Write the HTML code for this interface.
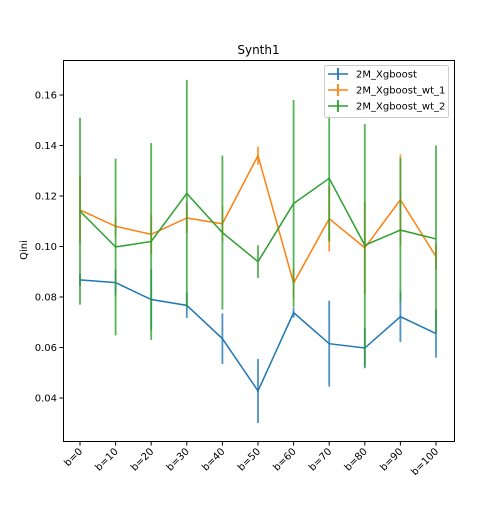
<!DOCTYPE html>
<html><head><meta charset="utf-8"><style>
body{margin:0;background:#fff;font-family:"Liberation Sans","DejaVu Sans",sans-serif}
svg text{font-family:"DejaVu Sans","Liberation Sans",sans-serif}
</style></head><body>
<svg id="chart" width="504" height="504" viewBox="0 0 504 504" xmlns="http://www.w3.org/2000/svg">
<rect width="504" height="504" fill="#fff"/>
<text x="258.5" y="54" font-size="12" text-anchor="middle">Synth1</text>
<text x="27" y="250" font-size="10" text-anchor="middle" transform="rotate(-90 27 250)">Qini</text>
<g id="plot"></g>
<rect x="63.5" y="60.5" width="391" height="381" fill="none" stroke="#000" stroke-width="1"/>
<g>
<rect x="324.5" y="65.5" width="124" height="52" rx="2" fill="#fff" fill-opacity="0.8" stroke="#ccc"/>
<g id="legend-entries"></g>
</g>
</svg>
<script>
const categories=["b=0","b=10","b=20","b=30","b=40","b=50","b=60","b=70","b=80","b=90","b=100"];
const yTicks=[0.04,0.06,0.08,0.10,0.12,0.14,0.16];
const seriesNames=["2M_Xgboost","2M_Xgboost_wt_1","2M_Xgboost_wt_2"];
const blueVals=[0.0868,0.0857,0.079,0.0767,0.0635,0.0428,0.0738,0.0615,0.0598,0.0722,0.0655];
const blueErr=[0.0024,0.005,0.012,0.005,0.010,0.0127,0.002,0.017,0.008,0.010,0.0095];
const orangeVals=[0.1145,0.108,0.1048,0.1113,0.109,0.136,0.0855,0.111,0.0995,0.1185,0.096];
const orangeErr=[0.0135,0.0036,0.0077,0.006,0.007,0.0036,0.006,0.013,0.018,0.018,0.005];
const greenVals=[0.114,0.0998,0.102,0.121,0.1055,0.094,0.117,0.127,0.1005,0.1065,0.103];
const greenErr=[0.037,0.035,0.039,0.045,0.0305,0.0065,0.041,0.025,0.048,0.0285,0.037];
const colors=["#1f77b4","#ff7f0e","#2ca02c"];
const NS="http://www.w3.org/2000/svg";
const xScale=i=>80+i*35.6;
const yScale=v=>246.5-(v-0.10)*2525;
const plot=document.getElementById('plot');
const svg=document.getElementById('chart');
function mk(tag,attrs,parent){const e=document.createElementNS(NS,tag);for(const k in attrs)e.setAttribute(k,attrs[k]);parent.appendChild(e);return e;}
yTicks.forEach(t=>{const y=yScale(t);
 const l=mk('line',{x1:59.5,x2:63.5,y1:y,y2:y,stroke:'#000'},svg);
 
 
 const tx=mk('text',{x:57,y:y+3.5,'font-size':10,'text-anchor':'end'},svg);tx.textContent=t.toFixed(2);
 
 
});
categories.forEach((c,i)=>{const x=xScale(i);
 const l=mk('line',{x1:x,x2:x,y1:441.5,y2:445.5,stroke:'#000'},svg);
 
 
 const tx=mk('text',{x:x+3,y:452,'font-size':10,'text-anchor':'end',transform:`rotate(-45 ${x+3} 452)`},svg);tx.textContent=c;
 
 
});
const allVals=[blueVals,orangeVals,greenVals],allErr=[blueErr,orangeErr,greenErr];
allVals.forEach((vals,s)=>{
 const g=mk('g',{},plot);
 
 
 vals.forEach((v,i)=>{
  const e=mk('line',{x1:xScale(i),x2:xScale(i),y1:yScale(v-allErr[s][i]),y2:yScale(v+allErr[s][i]),stroke:colors[s],'stroke-width':1.8,'stroke-opacity':0.8},g);
  
  
 });
 const p=mk('polyline',{points:vals.map((v,i)=>xScale(i)+','+yScale(v)).join(' '),fill:'none',stroke:colors[s],'stroke-width':1.5},g);
 
 
});
const le=document.getElementById('legend-entries');
seriesNames.forEach((n,s)=>{const y=74+s*16;
 const g=mk('g',{},le);
 
 
 mk('line',{x1:328,x2:348,y1:y,y2:y,stroke:colors[s],'stroke-width':1.5},g);
 mk('line',{x1:338,x2:338,y1:y-6,y2:y+6,stroke:colors[s],'stroke-width':1.8},g);
 const t=mk('text',{x:356,y:y+3.5,'font-size':10},g);t.textContent=n;
});
</script>
</body></html>
